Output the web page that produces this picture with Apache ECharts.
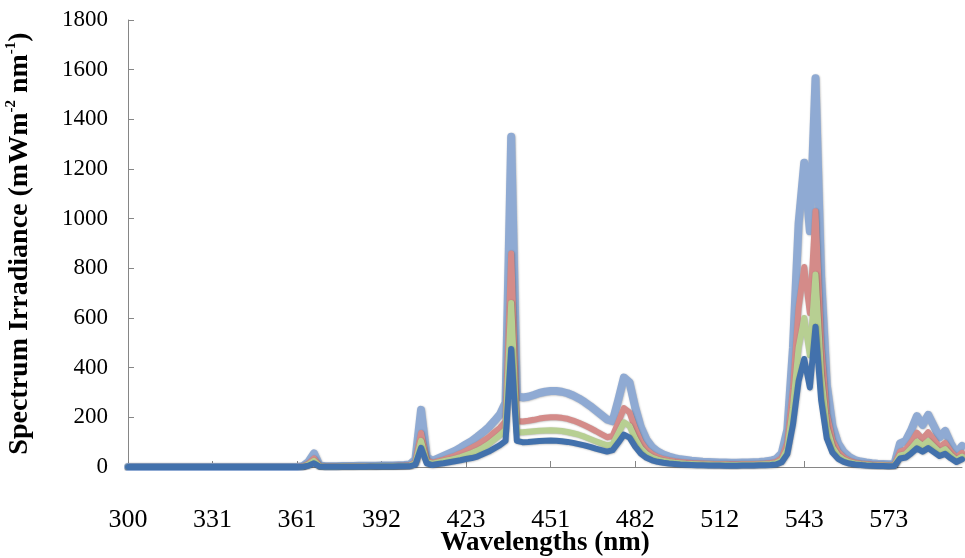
<!DOCTYPE html>
<html><head><meta charset="utf-8">
<script src="https://cdn.jsdelivr.net/npm/echarts@6/dist/echarts.min.js"></script>
<style>html,body{margin:0;padding:0;background:#fff}#c{width:965px;height:558px}</style>
</head><body><div id="c"></div>
<script>
// Tick labels shown on the category axis (every 15th category)
const tickLabels = [300, 331, 361, 392, 423, 451, 482, 512, 543, 573];
const perTick = 15;
const nPoints = 149;

// Series values (mW m-2 nm-1)
const seriesLightBlue = [
 0,0,0,0,0,0,0,0,0,0, 0,0,0,0,0,0,0,0,0,0, 0,0,0,0,0,0,0,0,0,0, 0,
 3,20,55,6,3,3,3,4,4,4, 5,5,5,5,6,6,6,7,8,10,
 30,230,40,25,35,45,55,65,78,92, 105,122,140,160,185,212,260,1330,285,280,
 283,290,298,303,306,306,303,297,288,276, 262,246,228,210,192,185,270,360,340,240,
 160,110,80,62,50,42,36,31,28,25, 23,21,20,19,18,18,17,17,18,18,
 19,20,22,25,32,55,150,480,980,1225, 950,1565,760,330,165,95,60,40,28,22,
 18,15,13,12,11,12,95,105,150,205, 170,210,165,120,145,95,55,85
];
const seriesRed = [
 0,0,0,0,0,0,0,0,0,0, 0,0,0,0,0,0,0,0,0,0, 0,0,0,0,0,0,0,0,0,0, 0,
 2,13,35,4,2,2,2,2,3,3, 3,3,3,3,4,4,4,5,5,7,
 20,137,28,17,24,30,38,45,55,66, 78,90,105,120,140,158,185,860,185,183,
 186,190,195,198,200,200,198,194,187,178, 168,157,145,132,120,125,180,237,220,155,
 102,70,52,40,32,27,23,20,18,16, 15,14,13,12,12,12,11,11,12,12,
 12,13,14,16,20,36,98,315,640,805, 620,1030,495,215,108,62,39,26,18,14,
 12,10,9,8,7,8,62,70,100,138, 113,140,110,80,97,63,37,57
];
const seriesGreen = [
 0,0,0,0,0,0,0,0,0,0, 0,0,0,0,0,0,0,0,0,0, 0,0,0,0,0,0,0,0,0,0, 0,
 1,10,25,3,1,1,1,2,2,2, 2,2,2,3,3,3,3,4,4,5,
 15,105,22,13,18,23,28,34,40,48, 56,66,78,92,110,128,150,660,140,140,
 142,144,146,147,148,147,145,141,136,130, 122,113,104,95,87,92,135,180,165,115,
 75,52,38,30,24,20,17,15,13,12, 11,10,10,9,9,9,8,8,9,9,
 9,10,11,12,15,27,72,238,480,600, 450,775,370,160,80,46,29,19,14,11,
 9,7,6,6,5,6,47,52,75,102, 85,104,82,60,72,47,28,42
];
const seriesBlue = [
 0,0,0,0,0,0,0,0,0,0, 0,0,0,0,0,0,0,0,0,0, 0,0,0,0,0,0,0,0,0,0, 0,
 1,5,15,2,1,1,1,1,1,1, 1,1,2,2,2,2,2,3,3,3,
 10,77,15,8,12,15,19,23,27,32, 36,42,52,62,75,88,105,475,105,100,
 101,103,105,106,107,106,104,101,97,92, 87,81,74,68,62,68,98,130,118,82,
 54,37,27,21,17,14,12,10,9,8, 7,7,6,6,6,5,5,5,6,6,
 6,7,7,8,10,19,52,170,345,435, 320,565,270,115,58,33,21,14,10,8,
 6,5,4,4,3,4,34,38,55,75, 62,76,60,44,53,35,20,31
];

// Category names (wavelengths); labelled ones are the tick labels
const categories = [];
for (let i = 0; i < nPoints; i++) {
  const k = Math.floor(i / perTick), r = i % perTick;
  if (r === 0 && k < tickLabels.length) { categories.push(String(tickLabels[k])); continue; }
  const a = tickLabels[Math.min(k, tickLabels.length - 1)];
  const b = k + 1 < tickLabels.length ? tickLabels[k + 1] : a + 30;
  categories.push((a + (b - a) * r / perTick).toFixed(1));
}

const serif = '"Liberation Serif", "DejaVu Serif", serif';
const chart = echarts.init(document.getElementById('c'), null, {renderer: 'canvas'});

function lineSeries(name, data, color, width) {
  return {
    name, type: 'line', data, symbol: 'none', smooth: false,
    lineStyle: {color, width, join: 'round', cap: 'round',
      shadowColor: 'rgba(0,0,0,0.3)', shadowBlur: 2, shadowOffsetX: 0.5, shadowOffsetY: 0.5},
    itemStyle: {color}, animation: false, z: 2
  };
}

chart.setOption({
  animation: false,
  backgroundColor: '#ffffff',
  grid: {left: 128, right: 3, top: 20, bottom: 91, containLabel: false, outerBoundsMode: 'none'},
  xAxis: {
    type: 'category', data: categories, boundaryGap: false,
    name: 'Wavelengths (nm)', nameLocation: 'middle', nameGap: 63, nameMoveOverlap: false,
    nameTextStyle: {fontFamily: serif, fontWeight: 'bold', fontSize: 27, color: '#000'},
    axisLine: {show: true, lineStyle: {color: '#868686', width: 1}},
    axisTick: {show: true, inside: true, length: 6, interval: perTick - 1, lineStyle: {color: '#868686'}},
    axisLabel: {interval: perTick - 1, fontFamily: serif, fontSize: 26, color: '#000', margin: 40},
    splitLine: {show: false}
  },
  yAxis: {
    type: 'value', min: 0, max: 1800, interval: 200,
    name: '{a|Spectrum Irradiance (mWm}{s|-2}{a| nm}{s|-1}{a|)}',
    nameLocation: 'middle', nameGap: 92, nameRotate: 90, nameMoveOverlap: false,
    nameTextStyle: {
      rich: {
        a: {fontFamily: serif, fontWeight: 'bold', fontSize: 28, color: '#000', lineHeight: 32},
        s: {fontFamily: serif, fontWeight: 'bold', fontSize: 15, color: '#000', lineHeight: 32, verticalAlign: 'top'}
      }
    },
    axisLine: {show: true, lineStyle: {color: '#868686', width: 1}},
    axisTick: {show: true, inside: true, length: 6, lineStyle: {color: '#868686'}},
    axisLabel: {fontFamily: serif, fontSize: 23, color: '#000', margin: 20, formatter: v => String(v)},
    splitLine: {show: false}
  },
  series: [
    lineSeries('Series 1', seriesLightBlue, '#8FAAD3', 8),
    lineSeries('Series 2', seriesRed, '#D48B89', 6),
    lineSeries('Series 3', seriesGreen, '#B7CF92', 6),
    lineSeries('Series 4', seriesBlue, '#4271AC', 6)
  ]
});
</script>
</body></html>
